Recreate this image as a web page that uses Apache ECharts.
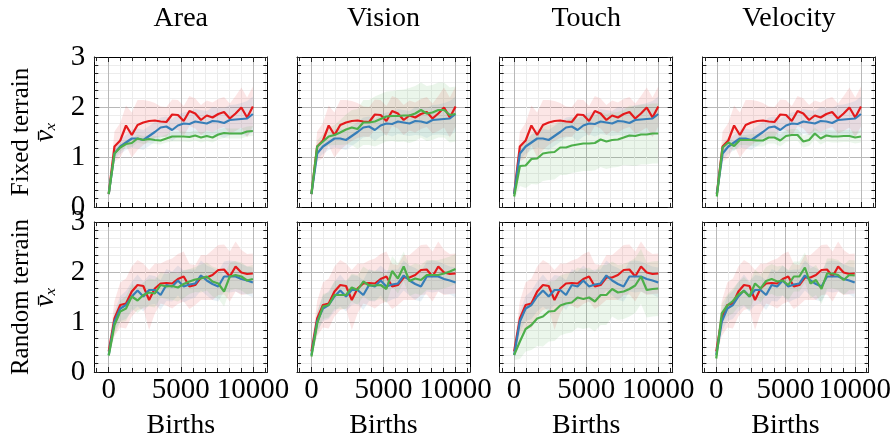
<!DOCTYPE html>
<html><head><meta charset="utf-8">
<script src="https://cdn.jsdelivr.net/npm/echarts@6/dist/echarts.min.js"></script>
<style>html,body{margin:0;padding:0;background:#fff}#c{width:894px;height:443px}</style>
</head><body><div id="c"></div>
<script>
// ---------- data ----------
const panelTitles = ['Area', 'Vision', 'Touch', 'Velocity'];
const rowTitles = ['Fixed terrain', 'Random terrain'];
const xTickLabels = [0, 5000, 10000];
const yTickLabels = [0, 1, 2, 3];
const births = [0,400,800,1200,1600,2000,2400,2800,3200,3600,4000,4400,4800,5200,5600,6000,6400,6800,7200,7600,8000,8400,8800,9200,9600,10000];

// Fixed terrain: baselines (red, blue) and feature variants (green)
const fixedRed  = [0.26,1.21,1.33,1.63,1.44,1.64,1.69,1.72,1.73,1.71,1.70,1.85,1.84,1.72,1.92,1.87,1.74,1.83,1.79,1.86,1.90,1.77,1.87,1.99,1.79,2.01];
const fixedRedSd = [0.05,0.30,0.35,0.40,0.45,0.50,0.45,0.40,0.35,0.30,0.30,0.30,0.30,0.30,0.30,0.30,0.30,0.30,0.30,0.30,0.30,0.30,0.35,0.40,0.40,0.40];
const fixedBlue = [0.26,1.07,1.21,1.29,1.37,1.37,1.34,1.42,1.50,1.59,1.61,1.54,1.63,1.67,1.66,1.71,1.69,1.67,1.72,1.71,1.68,1.74,1.75,1.76,1.77,1.86];
const fixedBlueSd = [0.05,0.12,0.15,0.15,0.18,0.20,0.20,0.20,0.20,0.20,0.20,0.22,0.22,0.22,0.25,0.25,0.25,0.25,0.28,0.28,0.30,0.30,0.30,0.32,0.35,0.35];
const fixedGreenArea = [0.26,1.07,1.19,1.26,1.28,1.37,1.34,1.36,1.34,1.33,1.37,1.41,1.41,1.41,1.40,1.43,1.39,1.42,1.39,1.45,1.48,1.47,1.47,1.47,1.51,1.52];
const fixedGreenAreaSd = [0.05,0.08,0.08,0.08,0.08,0.08,0.08,0.08,0.08,0.08,0.08,0.10,0.10,0.10,0.10,0.10,0.10,0.10,0.10,0.10,0.10,0.10,0.10,0.10,0.10,0.10];
const fixedGreenVision = [0.26,1.21,1.31,1.41,1.44,1.49,1.55,1.59,1.56,1.69,1.69,1.71,1.76,1.81,1.82,1.82,1.83,1.83,1.87,1.94,1.87,1.89,1.94,1.94,1.84,1.86];
const fixedGreenVisionSd = [0.05,0.12,0.15,0.18,0.20,0.25,0.30,0.35,0.40,0.45,0.45,0.50,0.50,0.50,0.50,0.52,0.52,0.55,0.55,0.55,0.55,0.55,0.55,0.55,0.55,0.55];
const fixedGreenTouch = [0.21,0.82,0.83,0.96,0.97,1.07,1.09,1.10,1.19,1.19,1.23,1.25,1.27,1.27,1.28,1.35,1.31,1.34,1.35,1.39,1.43,1.42,1.45,1.45,1.47,1.47];
const fixedGreenTouchSd = [0.08,0.40,0.45,0.50,0.52,0.55,0.55,0.55,0.55,0.55,0.55,0.55,0.55,0.55,0.55,0.55,0.55,0.55,0.55,0.55,0.60,0.60,0.60,0.60,0.60,0.60];
const fixedGreenVelocity = [0.21,1.19,1.29,1.22,1.34,1.34,1.34,1.33,1.33,1.39,1.39,1.33,1.42,1.44,1.44,1.31,1.34,1.47,1.37,1.43,1.41,1.41,1.42,1.42,1.39,1.41];
const fixedGreenVelocitySd = [0.05,0.10,0.10,0.10,0.10,0.10,0.12,0.12,0.12,0.12,0.12,0.12,0.12,0.12,0.12,0.12,0.12,0.12,0.12,0.12,0.12,0.12,0.12,0.12,0.12,0.12];

// Random terrain
const randomRed  = [0.41,1.07,1.34,1.37,1.61,1.74,1.72,1.44,1.67,1.77,1.78,1.77,1.86,1.91,1.71,1.74,1.89,1.89,1.94,2.04,2.05,1.91,2.11,1.99,1.96,1.97];
const randomRedSd = [0.08,0.35,0.45,0.50,0.50,0.50,0.45,0.60,0.50,0.40,0.45,0.50,0.50,0.50,0.45,0.40,0.45,0.45,0.50,0.50,0.50,0.50,0.50,0.45,0.40,0.40];
const randomBlue = [0.34,1.01,1.27,1.34,1.51,1.63,1.51,1.64,1.64,1.54,1.74,1.71,1.83,1.71,1.75,1.77,1.93,1.83,1.76,1.71,1.91,1.91,1.91,1.86,1.83,1.79];
const randomBlueSd = [0.06,0.20,0.25,0.28,0.30,0.32,0.30,0.30,0.28,0.30,0.32,0.30,0.30,0.32,0.30,0.28,0.30,0.30,0.32,0.30,0.30,0.32,0.30,0.30,0.28,0.30];
const randomGreenArea = [0.33,0.94,1.21,1.27,1.51,1.43,1.54,1.59,1.57,1.74,1.71,1.72,1.69,1.76,1.81,1.85,1.87,1.91,1.81,1.77,1.61,1.91,1.94,1.91,1.83,1.86];
const randomGreenAreaSd = [0.06,0.20,0.22,0.25,0.25,0.25,0.25,0.28,0.28,0.25,0.25,0.28,0.28,0.28,0.25,0.25,0.28,0.28,0.30,0.30,0.30,0.28,0.28,0.28,0.28,0.28];
const randomGreenVision = [0.31,0.97,1.31,1.34,1.54,1.54,1.54,1.69,1.64,1.81,1.73,1.73,1.74,1.66,2.02,1.87,2.11,1.82,1.87,1.84,1.94,1.94,1.94,1.97,2.01,2.06];
const randomGreenVisionSd = [0.06,0.22,0.25,0.25,0.28,0.28,0.28,0.28,0.30,0.30,0.30,0.30,0.28,0.28,0.30,0.30,0.30,0.30,0.30,0.30,0.30,0.30,0.30,0.30,0.30,0.30];
const randomGreenTouch = [0.34,0.61,0.86,0.94,1.07,1.11,1.21,1.22,1.33,1.37,1.39,1.49,1.46,1.49,1.41,1.54,1.54,1.66,1.59,1.61,1.66,1.73,1.91,1.64,1.66,1.67];
const randomGreenTouchSd = [0.10,0.35,0.45,0.50,0.55,0.60,0.60,0.60,0.60,0.60,0.60,0.60,0.60,0.60,0.60,0.60,0.60,0.55,0.55,0.55,0.55,0.55,0.55,0.55,0.55,0.55];
const randomGreenVelocity = [0.27,1.17,1.33,1.42,1.55,1.62,1.51,1.77,1.67,1.82,1.86,1.81,1.83,1.74,1.91,1.91,2.09,1.77,1.84,1.66,1.97,1.97,1.94,1.84,1.94,1.93];
const randomGreenVelocitySd = [0.06,0.20,0.22,0.25,0.25,0.28,0.28,0.28,0.28,0.28,0.30,0.30,0.30,0.30,0.30,0.30,0.30,0.30,0.30,0.30,0.30,0.30,0.30,0.30,0.30,0.30];

// ---------- build ----------
const rowData = [
  {red: fixedRed, redSd: fixedRedSd, blue: fixedBlue, blueSd: fixedBlueSd,
   green: [fixedGreenArea, fixedGreenVision, fixedGreenTouch, fixedGreenVelocity],
   greenSd: [fixedGreenAreaSd, fixedGreenVisionSd, fixedGreenTouchSd, fixedGreenVelocitySd]},
  {red: randomRed, redSd: randomRedSd, blue: randomBlue, blueSd: randomBlueSd,
   green: [randomGreenArea, randomGreenVision, randomGreenTouch, randomGreenVelocity],
   greenSd: [randomGreenAreaSd, randomGreenVisionSd, randomGreenTouchSd, randomGreenVelocitySd]}
];
const COLORS = {red: '#e41a1c', blue: '#377eb8', green: '#4daf4a'};
const FONT = '"Liberation Serif", "DejaVu Serif", serif';
const FS = 28;
const FS_TICK = 29;
const FS_ROW = 25;
const colLeft = [94.3, 297, 499.7, 702.4];
const rowTop = [57, 222];
const W = 173, H = 150;

const grids = [], xAxes = [], yAxes = [], series = [], graphics = [];
const tickStyle = {color: '#222', width: 1};
const lineBox = {show: true, onZero: false, lineStyle: {color: '#000', width: 1}};

function addBand(k, mean, sd, color) {
  const upper = mean.map((m, i) => m + sd[i]);
  const lower = mean.map((m, i) => m - sd[i]);
  series.push({type: 'custom', xAxisIndex: 2*k, yAxisIndex: 2*k, silent: true, z: 1,
    animation: false, clip: true,
    data: [[births[0], mean[0]]],
    renderItem: function (params, api) {
      const pts = [];
      for (let i = 0; i < births.length; i++) pts.push(api.coord([births[i], upper[i]]));
      for (let i = births.length - 1; i >= 0; i--) pts.push(api.coord([births[i], lower[i]]));
      return {type: 'polygon', shape: {points: pts}, style: {fill: color, opacity: 0.11}};
    }});
}
function addLine(k, mean, color) {
  series.push({type: 'line', xAxisIndex: 2*k, yAxisIndex: 2*k, symbol: 'none', z: 3,
    animation: false, lineStyle: {color: color, width: 2.2}, itemStyle: {color: color},
    data: births.map((b, i) => [b, mean[i]])});
}

for (let r = 0; r < 2; r++) {
  for (let c = 0; c < 4; c++) {
    const k = r * 4 + c;
    grids.push({left: colLeft[c], top: rowTop[r], width: W, height: H, show: false});
    const xBase = {gridIndex: k, type: 'value', min: -1000, max: 11000, splitNumber: 2,
      axisLine: lineBox,
      axisTick: {show: true, inside: true, length: 5, lineStyle: tickStyle},
      minorTick: {show: true, splitNumber: 6, length: 4, lineStyle: tickStyle}};
    xAxes.push(Object.assign({}, xBase, {position: 'bottom',
      splitLine: {show: true, lineStyle: {color: '#b8b8b8', width: 1}},
      minorSplitLine: {show: true, lineStyle: {color: '#ececec', width: 1}},
      axisLabel: {show: r === 1, margin: 4, color: '#000', fontFamily: FONT, fontSize: FS_TICK,
        showMinLabel: false, showMaxLabel: false,
        formatter: v => (xTickLabels.indexOf(v) >= 0 ? String(v) : '')},
      name: r === 1 ? 'Births' : '', nameLocation: 'middle', nameGap: 40,
      nameTextStyle: {color: '#000', fontFamily: FONT, fontSize: FS}}));
    xAxes.push(Object.assign({}, xBase, {position: 'top', splitLine: {show: false},
      minorSplitLine: {show: false}, axisLabel: {show: false}}));
    const yBase = {gridIndex: k, type: 'value', min: 0, max: 3, interval: 1,
      axisLine: lineBox,
      axisTick: {show: true, inside: true, length: 5, lineStyle: tickStyle},
      minorTick: {show: true, splitNumber: 6, length: 4, lineStyle: tickStyle}};
    yAxes.push(Object.assign({}, yBase, {position: 'left',
      splitLine: {show: true, lineStyle: {color: '#b8b8b8', width: 1}},
      minorSplitLine: {show: true, lineStyle: {color: '#ececec', width: 1}},
      axisLabel: {show: c === 0, margin: 9, color: '#000', fontFamily: FONT, fontSize: FS_TICK,
        formatter: v => (yTickLabels.indexOf(v) >= 0 ? String(v) : '')}}));
    yAxes.push(Object.assign({}, yBase, {position: 'right', splitLine: {show: false},
      minorSplitLine: {show: false}, axisLabel: {show: false}}));

    const d = rowData[r];
    addBand(k, d.red, d.redSd, COLORS.red);
    addBand(k, d.blue, d.blueSd, COLORS.blue);
    addBand(k, d.green[c], d.greenSd[c], COLORS.green);
    addLine(k, d.red, COLORS.red);
    addLine(k, d.blue, COLORS.blue);
    addLine(k, d.green[c], COLORS.green);
  }
}

for (let c = 0; c < 4; c++) {
  graphics.push({type: 'text', x: colLeft[c] + W / 2, y: 19,
    style: {text: panelTitles[c], font: FS + 'px ' + FONT, fill: '#000',
      textAlign: 'center', textVerticalAlign: 'middle', verticalAlign: 'middle'}});
}
for (let r = 0; r < 2; r++) {
  const cy = rowTop[r] + H / 2;
  graphics.push({type: 'text', x: 21, y: cy, rotation: Math.PI / 2,
    style: {text: rowTitles[r], font: FS_ROW + 'px ' + FONT, fill: '#000',
      textAlign: 'center', textVerticalAlign: 'middle', verticalAlign: 'middle'}});
  graphics.push({type: 'text', x: 46, y: cy, rotation: Math.PI / 2,
    style: {text: 'v\u0304\u2093', font: 'italic ' + FS + 'px ' + FONT, fill: '#000',
      textAlign: 'center', textVerticalAlign: 'middle', verticalAlign: 'middle'}});
}

const chart = echarts.init(document.getElementById('c'), null, {renderer: 'canvas'});
chart.setOption({
  animation: false,
  backgroundColor: '#fff',
  grid: grids, xAxis: xAxes, yAxis: yAxes, series: series, graphic: graphics
});
</script>
</body></html>
